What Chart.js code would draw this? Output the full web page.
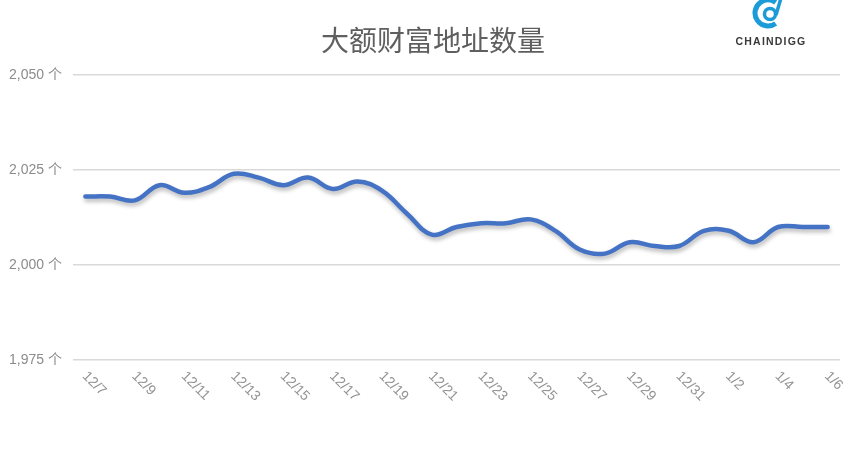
<!DOCTYPE html>
<html>
<head>
<meta charset="utf-8">
<script src="https://cdn.jsdelivr.net/npm/chart.js@4/dist/chart.umd.min.js"></script>
<style>
html,body{margin:0;padding:0;background:#fff;}
#wrap{width:864px;height:454px;position:relative;}
</style>
</head>
<body>
<div id="wrap"><canvas id="c" width="864" height="454"></canvas></div>
<script>
const titleText = "大额财富地址数量";
const categories = ["12/7","12/8","12/9","12/10","12/11","12/12","12/13","12/14","12/15","12/16","12/17","12/18","12/19","12/20","12/21","12/22","12/23","12/24","12/25","12/26","12/27","12/28","12/29","12/30","12/31","1/1","1/2","1/3","1/4","1/5","1/6"];
const addressCount = [2018,2018,2017,2021,2019,2020.5,2024,2023,2021,2023,2020,2022,2019.5,2013.5,2008,2010,2011,2011,2012,2009,2004,2003,2006,2005,2005,2009,2009,2006,2010,2010,2010];
const yTicks = [1975,2000,2025,2050];
const unitSuffix = " 个";

const FONT = "'Liberation Sans', Arial, 'Noto Sans CJK SC', sans-serif";

const shadowPlugin = {
  id: 'lineShadow',
  beforeDatasetDraw(chart) {
    const ctx = chart.ctx;
    ctx.save();
    ctx.shadowColor = 'rgba(0,0,0,0.28)';
    ctx.shadowBlur = 4;
    ctx.shadowOffsetX = 1;
    ctx.shadowOffsetY = 3;
  },
  afterDatasetDraw(chart) {
    chart.ctx.restore();
  }
};

const decorPlugin = {
  id: 'decor',
  afterDraw(chart) {
    const ctx = chart.ctx;
    const xs = chart.scales.x;
    // rotated x labels
    ctx.save();
    ctx.fillStyle = '#949494';
    ctx.font = "14px " + FONT;
    ctx.textAlign = 'left';
    ctx.textBaseline = 'top';
    categories.forEach((lab, i) => {
      if (i % 2 !== 0) return;
      const x = xs.getPixelForValue(i);
      ctx.save();
      ctx.translate(x + 4, chart.chartArea.bottom + 9);
      ctx.rotate(Math.PI / 4);
      ctx.fillText(lab, 0, 0);
      ctx.restore();
    });
    ctx.restore();

    // title
    ctx.save();
    ctx.fillStyle = '#5f5f5f';
    ctx.font = "28px 'Noto Sans CJK SC', sans-serif";
    ctx.textAlign = 'center';
    ctx.textBaseline = 'middle';
    ctx.fillText(titleText, 433, 40);
    ctx.restore();

    // logo
    ctx.save();
    ctx.strokeStyle = '#1b9bd8';
    ctx.lineWidth = 5;
    ctx.beginPath();
    ctx.arc(768, 13, 13, Math.PI * 0.3, Math.PI * 1.7);
    ctx.stroke();
    ctx.lineWidth = 3.5;
    ctx.beginPath();
    ctx.arc(770, 14, 5.5, 0, Math.PI * 2);
    ctx.stroke();
    ctx.beginPath();
    ctx.moveTo(776, 15);
    ctx.lineTo(781, -2);
    ctx.stroke();
    ctx.fillStyle = '#3a3a3a';
    ctx.font = "bold 10.5px " + FONT;
    ctx.textAlign = 'center';
    ctx.textBaseline = 'middle';
    try { ctx.letterSpacing = '1.2px'; } catch (e) {}
    ctx.fillText('CHAINDIGG', 771, 42);
    ctx.restore();
  }
};

new Chart(document.getElementById('c'), {
  type: 'line',
  data: {
    labels: categories,
    datasets: [{
      data: addressCount,
      borderColor: '#4472c4',
      borderWidth: 4.5,
      pointRadius: 0,
      tension: 0.4,
      fill: false,
      borderCapStyle: 'round',
      borderJoinStyle: 'round'
    }]
  },
  options: {
    responsive: false,
    animation: false,
    devicePixelRatio: 1,
    layout: { padding: { top: 75, right: 24, left: 0, bottom: 0 } },
    plugins: {
      legend: { display: false },
      title: { display: false },
      tooltip: { enabled: false }
    },
    scales: {
      x: {
        type: 'category',
        offset: true,
        grid: { display: false },
        border: { display: false },
        ticks: { display: false },
        afterFit(s) { s.height = 94; }
      },
      y: {
        min: 1975,
        max: 2050,
        afterBuildTicks(s) { s.ticks = yTicks.map(v => ({ value: v })); },
        grid: { color: '#d9d9d9', lineWidth: 1.5, drawTicks: false },
        border: { display: false },
        ticks: {
          color: '#8c8c8c',
          font: { family: FONT, size: 14 },
          padding: 11,
          callback: v => v.toLocaleString('en-US') + unitSuffix
        },
        afterFit(s) { s.width = 73; }
      }
    }
  },
  plugins: [shadowPlugin, decorPlugin]
});
</script>
</body>
</html>
